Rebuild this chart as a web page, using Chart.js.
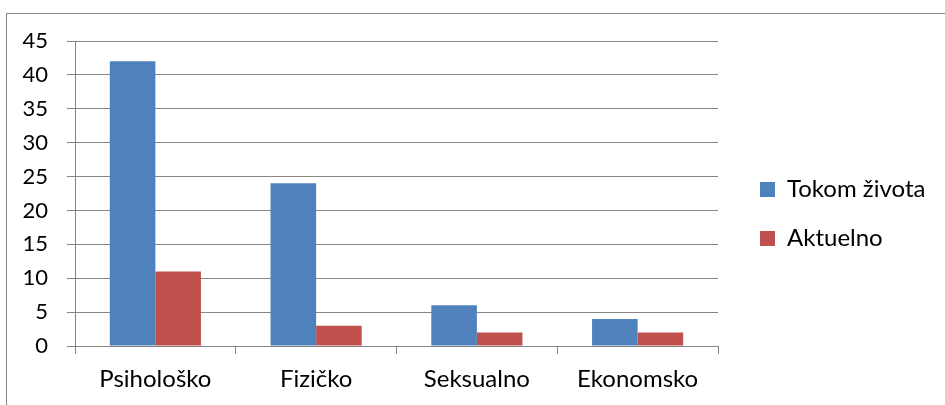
<!DOCTYPE html>
<html>
<head>
<meta charset="utf-8">
<script src="https://cdn.jsdelivr.net/npm/chart.js@4.4.1/dist/chart.umd.min.js"></script>
<style>
  html, body { margin: 0; padding: 0; background: #fff; }
  #myChart { display: block; }
</style>
</head>
<body>
<canvas id="myChart" width="945" height="405"></canvas>
<script>
let kategorije = ['Psihološko', 'Fizičko', 'Seksualno', 'Ekonomsko']
let tokomZivota = [42, 24, 6, 4]
let aktuelno = [11, 3, 2, 2]
let nazivSerija = ['Tokom života', 'Aktuelno']

const sivaLinija = '#868686'
const font = 'Lato'

// okvir oko celog grafikona
const okvir = {
    id: 'okvir',
    beforeDraw(chart) {
        const ctx = chart.ctx
        ctx.save()
        ctx.strokeStyle = sivaLinija
        ctx.lineWidth = 1
        ctx.beginPath()
        ctx.moveTo(6.5, chart.height + 5)
        ctx.lineTo(6.5, 13.5)
        ctx.lineTo(chart.width + 5, 13.5)
        ctx.stroke()
        ctx.restore()
    }
}

// legenda: fiksna sirina i pomeraj
const legendaPomeraj = {
    id: 'legendaPomeraj',
    afterInit(chart) {
        const legenda = chart.legend
        const fit = legenda.fit.bind(legenda)
        legenda.fit = function () {
            fit()
            this.width = 227
        }
    },
    afterLayout(chart) {
        chart.legend.left += 17
        chart.legend.right += 17
        chart.legend.top -= 9
        chart.legend.bottom -= 9
    }
}

function generarGrafico() {
    let grafico = document.getElementById('myChart')
    new Chart(grafico, {
        type: 'bar',
        data: {
            labels: kategorije,
            datasets: [{
                label: nazivSerija[0],
                data: tokomZivota,
                backgroundColor: '#4F81BD',
                barPercentage: 1,
                categoryPercentage: 0.567
            }, {
                label: nazivSerija[1],
                data: aktuelno,
                backgroundColor: '#C0504D',
                barPercentage: 1,
                categoryPercentage: 0.567
            }]
        },
        options: {
            responsive: false,
            animation: false,
            layout: { padding: { top: 41, left: 0, right: 0, bottom: 0 } },
            plugins: {
                legend: {
                    position: 'right',
                    labels: {
                        boxWidth: 15,
                        boxHeight: 15,
                        padding: 25,
                        color: '#000',
                        font: { family: font, size: 24 }
                    }
                },
                tooltip: { enabled: false }
            },
            scales: {
                x: {
                    grid: {
                        color: sivaLinija,
                        drawOnChartArea: false,
                        drawTicks: true,
                        tickLength: 8,
                        offset: true
                    },
                    border: { color: sivaLinija, width: 1 },
                    ticks: {
                        color: '#000',
                        padding: 11,
                        font: { family: font, size: 24 }
                    },
                    afterFit(scale) { scale.height = 59 }
                },
                y: {
                    min: 0,
                    max: 45,
                    grid: {
                        color: sivaLinija,
                        tickLength: 8
                    },
                    border: { color: sivaLinija, width: 1 },
                    ticks: {
                        stepSize: 5,
                        color: '#000',
                        padding: 19,
                        font: { family: font, size: 22 }
                    },
                    afterFit(scale) { scale.width = 75 }
                }
            }
        },
        plugins: [okvir, legendaPomeraj]
    })
}

generarGrafico()
</script>
</body>
</html>
